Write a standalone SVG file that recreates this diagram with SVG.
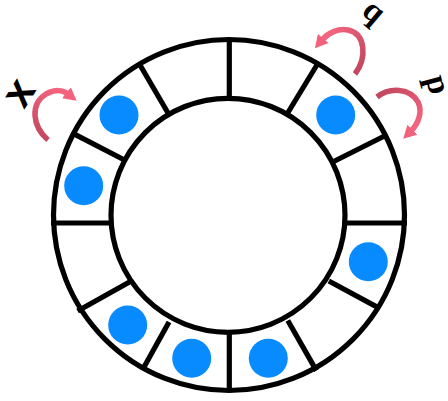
<svg xmlns="http://www.w3.org/2000/svg" width="448" height="401" viewBox="0 0 448 401">
<style>
.ring{fill:none;stroke:#000;stroke-width:5.2}
.div{stroke:#000;stroke-width:5.2;stroke-linecap:butt}
.dot{fill:#078bff}
.arrow{fill:none;stroke-width:5.5;stroke-linecap:butt}
.lbl{font-family:"Liberation Serif","Times New Roman",serif;font-weight:bold;font-size:33px;fill:#000}
.lblx{font-family:"Liberation Sans",Arial,sans-serif;font-weight:bold;font-size:43px;fill:#000}
</style>
<defs>
<marker id="head" markerUnits="userSpaceOnUse" markerWidth="14" markerHeight="14" refX="2" refY="7" orient="auto" viewBox="0 0 14 14">
<path d="M0,0 L13,7 L0,14 z" fill="#f2627c"/>
</marker>
<linearGradient id="gq" gradientUnits="userSpaceOnUse" x1="355" y1="74" x2="320" y2="42">
<stop offset="0" stop-color="#c2485f"/><stop offset="1" stop-color="#f4647e"/>
</linearGradient>
<linearGradient id="gp" gradientUnits="userSpaceOnUse" x1="377" y1="97" x2="410" y2="132">
<stop offset="0" stop-color="#c2485f"/><stop offset="1" stop-color="#f4647e"/>
</linearGradient>
<linearGradient id="gx" gradientUnits="userSpaceOnUse" x1="48" y1="140" x2="68" y2="94">
<stop offset="0" stop-color="#c2485f"/><stop offset="1" stop-color="#f4647e"/>
</linearGradient>
</defs>
<rect width="448" height="401" fill="#fff"/>
<g id="ring">
<circle class="ring" cx="229" cy="215" r="175.5"/>
<circle class="ring" cx="228" cy="215.3" r="117"/>
<line class="div" x1="229.3" y1="38" x2="229.3" y2="100"/>
<line class="div" x1="229.3" y1="330" x2="229.3" y2="392"/>
<line class="div" x1="51" y1="223" x2="112" y2="223"/>
<line class="div" x1="344" y1="223" x2="407" y2="223"/>
<line class="div" x1="139" y1="63.3" x2="168.3" y2="113.5"/>
<line class="div" x1="71.5" y1="132.6" x2="123" y2="159.2"/>
<line class="div" x1="317.5" y1="64" x2="287.7" y2="113"/>
<line class="div" x1="385" y1="135.7" x2="334.2" y2="161.2"/>
<line class="div" x1="129.5" y1="282" x2="77.6" y2="311"/>
<line class="div" x1="169" y1="322" x2="142.4" y2="370"/>
<line class="div" x1="287.8" y1="320.5" x2="316.4" y2="370.6"/>
<line class="div" x1="328.8" y1="281" x2="380" y2="308.6"/>
</g>
<g id="dots">
<circle class="dot" cx="119" cy="115" r="19.5"/>
<circle class="dot" cx="83.7" cy="185.7" r="19.5"/>
<circle class="dot" cx="335.7" cy="115" r="19.5"/>
<circle class="dot" cx="368.3" cy="261.7" r="19.5"/>
<circle class="dot" cx="127.7" cy="325" r="19.5"/>
<circle class="dot" cx="191.7" cy="358.3" r="19.5"/>
<circle class="dot" cx="268.3" cy="358.3" r="19.5"/>
</g>
<g id="connectors">
<path class="arrow" stroke="url(#gq)" marker-end="url(#head)" d="M355,74 C367,58 366,34 348,30 C338,28 328,33 322,40"/>
<path class="arrow" stroke="url(#gp)" marker-end="url(#head)" d="M377,97 C390,87 410,88 418,102 C423,112 418,124 411,131"/>
<path class="arrow" stroke="url(#gx)" marker-end="url(#head)" d="M48,140 C32,126 30,104 46,94 C55,89 63,90 68,94"/>
</g>
<g id="label-q" transform="translate(370,16) rotate(40)"><text class="lbl" x="0" y="4" text-anchor="middle">q</text></g>
<g id="label-p" transform="translate(432,86) rotate(75)"><text class="lbl" x="0" y="4" text-anchor="middle">p</text></g>
<g id="label-x" transform="translate(21,94) rotate(-58)"><text class="lblx" x="0" y="11" text-anchor="middle">x</text></g>
</svg>
